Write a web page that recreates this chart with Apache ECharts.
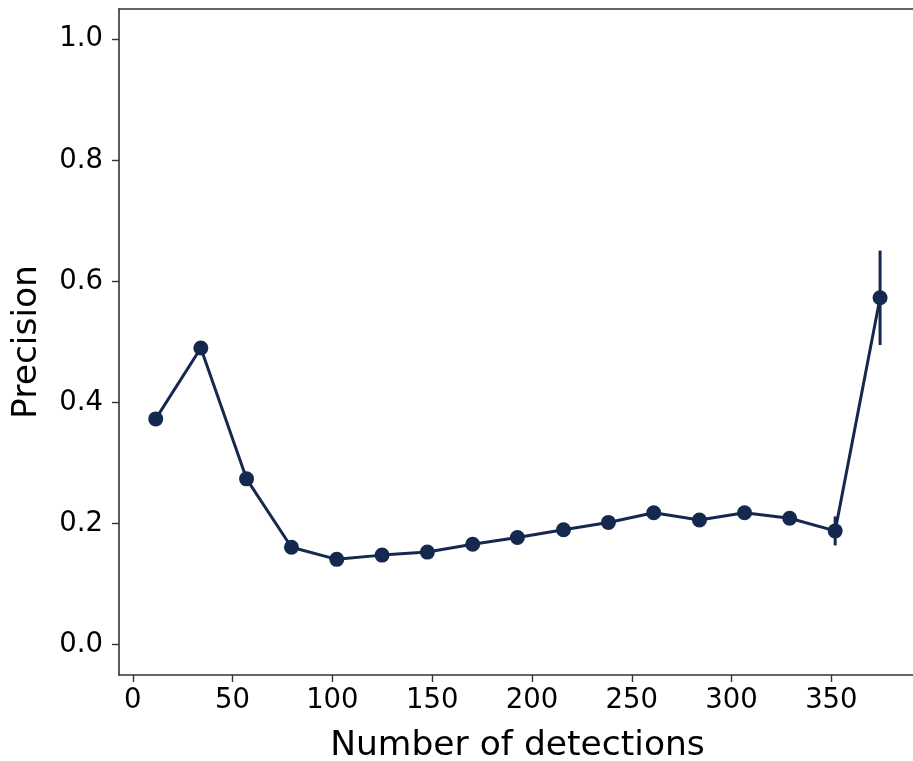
<!DOCTYPE html>
<html>
<head>
<meta charset="utf-8">
<script src="https://cdn.jsdelivr.net/npm/echarts@6/dist/echarts.min.js"></script>
<style>
  html, body { margin: 0; padding: 0; background: #fff; }
  #chart { width: 913px; height: 761px; }
</style>
</head>
<body>
<div id="chart"></div>
<script>
// Detection-count bins (centres) and the precision measured in each one
const detections = [11.5, 34.1, 57.0, 79.5, 102.2, 124.9, 147.6, 170.3, 192.7, 215.8, 238.3, 261.0, 283.9, 306.5, 329.1, 351.9, 374.4];
const precision = [0.373, 0.490, 0.274, 0.161, 0.141, 0.148, 0.153, 0.166, 0.177, 0.190, 0.202, 0.218, 0.206, 0.218, 0.209, 0.188, 0.573];
const precisionErr = [0.006, 0.008, 0.005, 0.003, 0.002, 0.002, 0.002, 0.002, 0.002, 0.003, 0.003, 0.003, 0.004, 0.004, 0.006, 0.024, 0.078];

// Tick positions
const xTicks = [0, 50, 100, 150, 200, 250, 300, 350];
const yTicks = [0.0, 0.2, 0.4, 0.6, 0.8, 1.0];

const navy = '#15294f';
const spine = '#333333';
const font = 'DejaVu Sans';

const points = detections.map((x, i) => [x, precision[i]]);
const bars = detections.map((x, i) => [x, precision[i] - precisionErr[i], precision[i] + precisionErr[i]]);

const chart = echarts.init(document.getElementById('chart'), null, { renderer: 'canvas' });

chart.setOption({
  animation: false,
  backgroundColor: '#ffffff',
  grid: { left: 119, right: -3, top: 9, bottom: 86, containLabel: false, outerBoundsMode: 'none' },
  xAxis: [{
    type: 'value',
    min: -6.9,
    max: 392.4,
    position: 'bottom',
    name: 'Number of detections',
    nameLocation: 'middle',
    nameGap: 54,
    nameTextStyle: { fontFamily: font, fontSize: 34.5, color: '#000' },
    axisLine: { show: true, onZero: false, lineStyle: { color: spine, width: 1.6 } },
    axisTick: { show: true, length: 7, inside: false, customValues: xTicks, lineStyle: { color: spine, width: 1.4 } },
    axisLabel: { customValues: xTicks, fontFamily: font, fontSize: 27.5, color: '#000', margin: 12 },
    splitLine: { show: false }
  }, {
    type: 'value',
    min: -6.9,
    max: 392.4,
    position: 'top',
    axisLine: { show: true, onZero: false, lineStyle: { color: spine, width: 1.6 } },
    axisTick: { show: false },
    axisLabel: { show: false },
    splitLine: { show: false }
  }],
  yAxis: {
    type: 'value',
    min: -0.05,
    max: 1.05,
    position: 'left',
    name: 'Precision',
    nameLocation: 'middle',
    nameGap: 74,
    nameTextStyle: { fontFamily: font, fontSize: 34.5, color: '#000' },
    axisLine: { show: true, onZero: false, lineStyle: { color: spine, width: 1.6 } },
    axisTick: { show: true, length: 7, inside: false, customValues: yTicks, lineStyle: { color: spine, width: 1.4 } },
    axisLabel: {
      customValues: yTicks,
      fontFamily: font, fontSize: 27.5, color: '#000', margin: 16,
      formatter: v => v.toFixed(1)
    },
    splitLine: { show: false }
  },
  series: [{
    type: 'custom',
    name: 'error',
    xAxisIndex: 0,
    data: bars,
    z: 3,
    renderItem: (params, api) => {
      const x = api.value(0);
      const lo = api.coord([x, api.value(1)]);
      const hi = api.coord([x, api.value(2)]);
      return {
        type: 'line',
        shape: { x1: lo[0], y1: lo[1], x2: hi[0], y2: hi[1] },
        style: { stroke: navy, lineWidth: 3 }
      };
    }
  }, {
    type: 'line',
    name: 'Precision',
    xAxisIndex: 0,
    data: points,
    z: 4,
    symbol: 'circle',
    symbolSize: 15,
    showAllSymbol: true,
    lineStyle: { color: navy, width: 3 },
    itemStyle: { color: navy, borderWidth: 0 }
  }]
});
</script>
</body>
</html>
